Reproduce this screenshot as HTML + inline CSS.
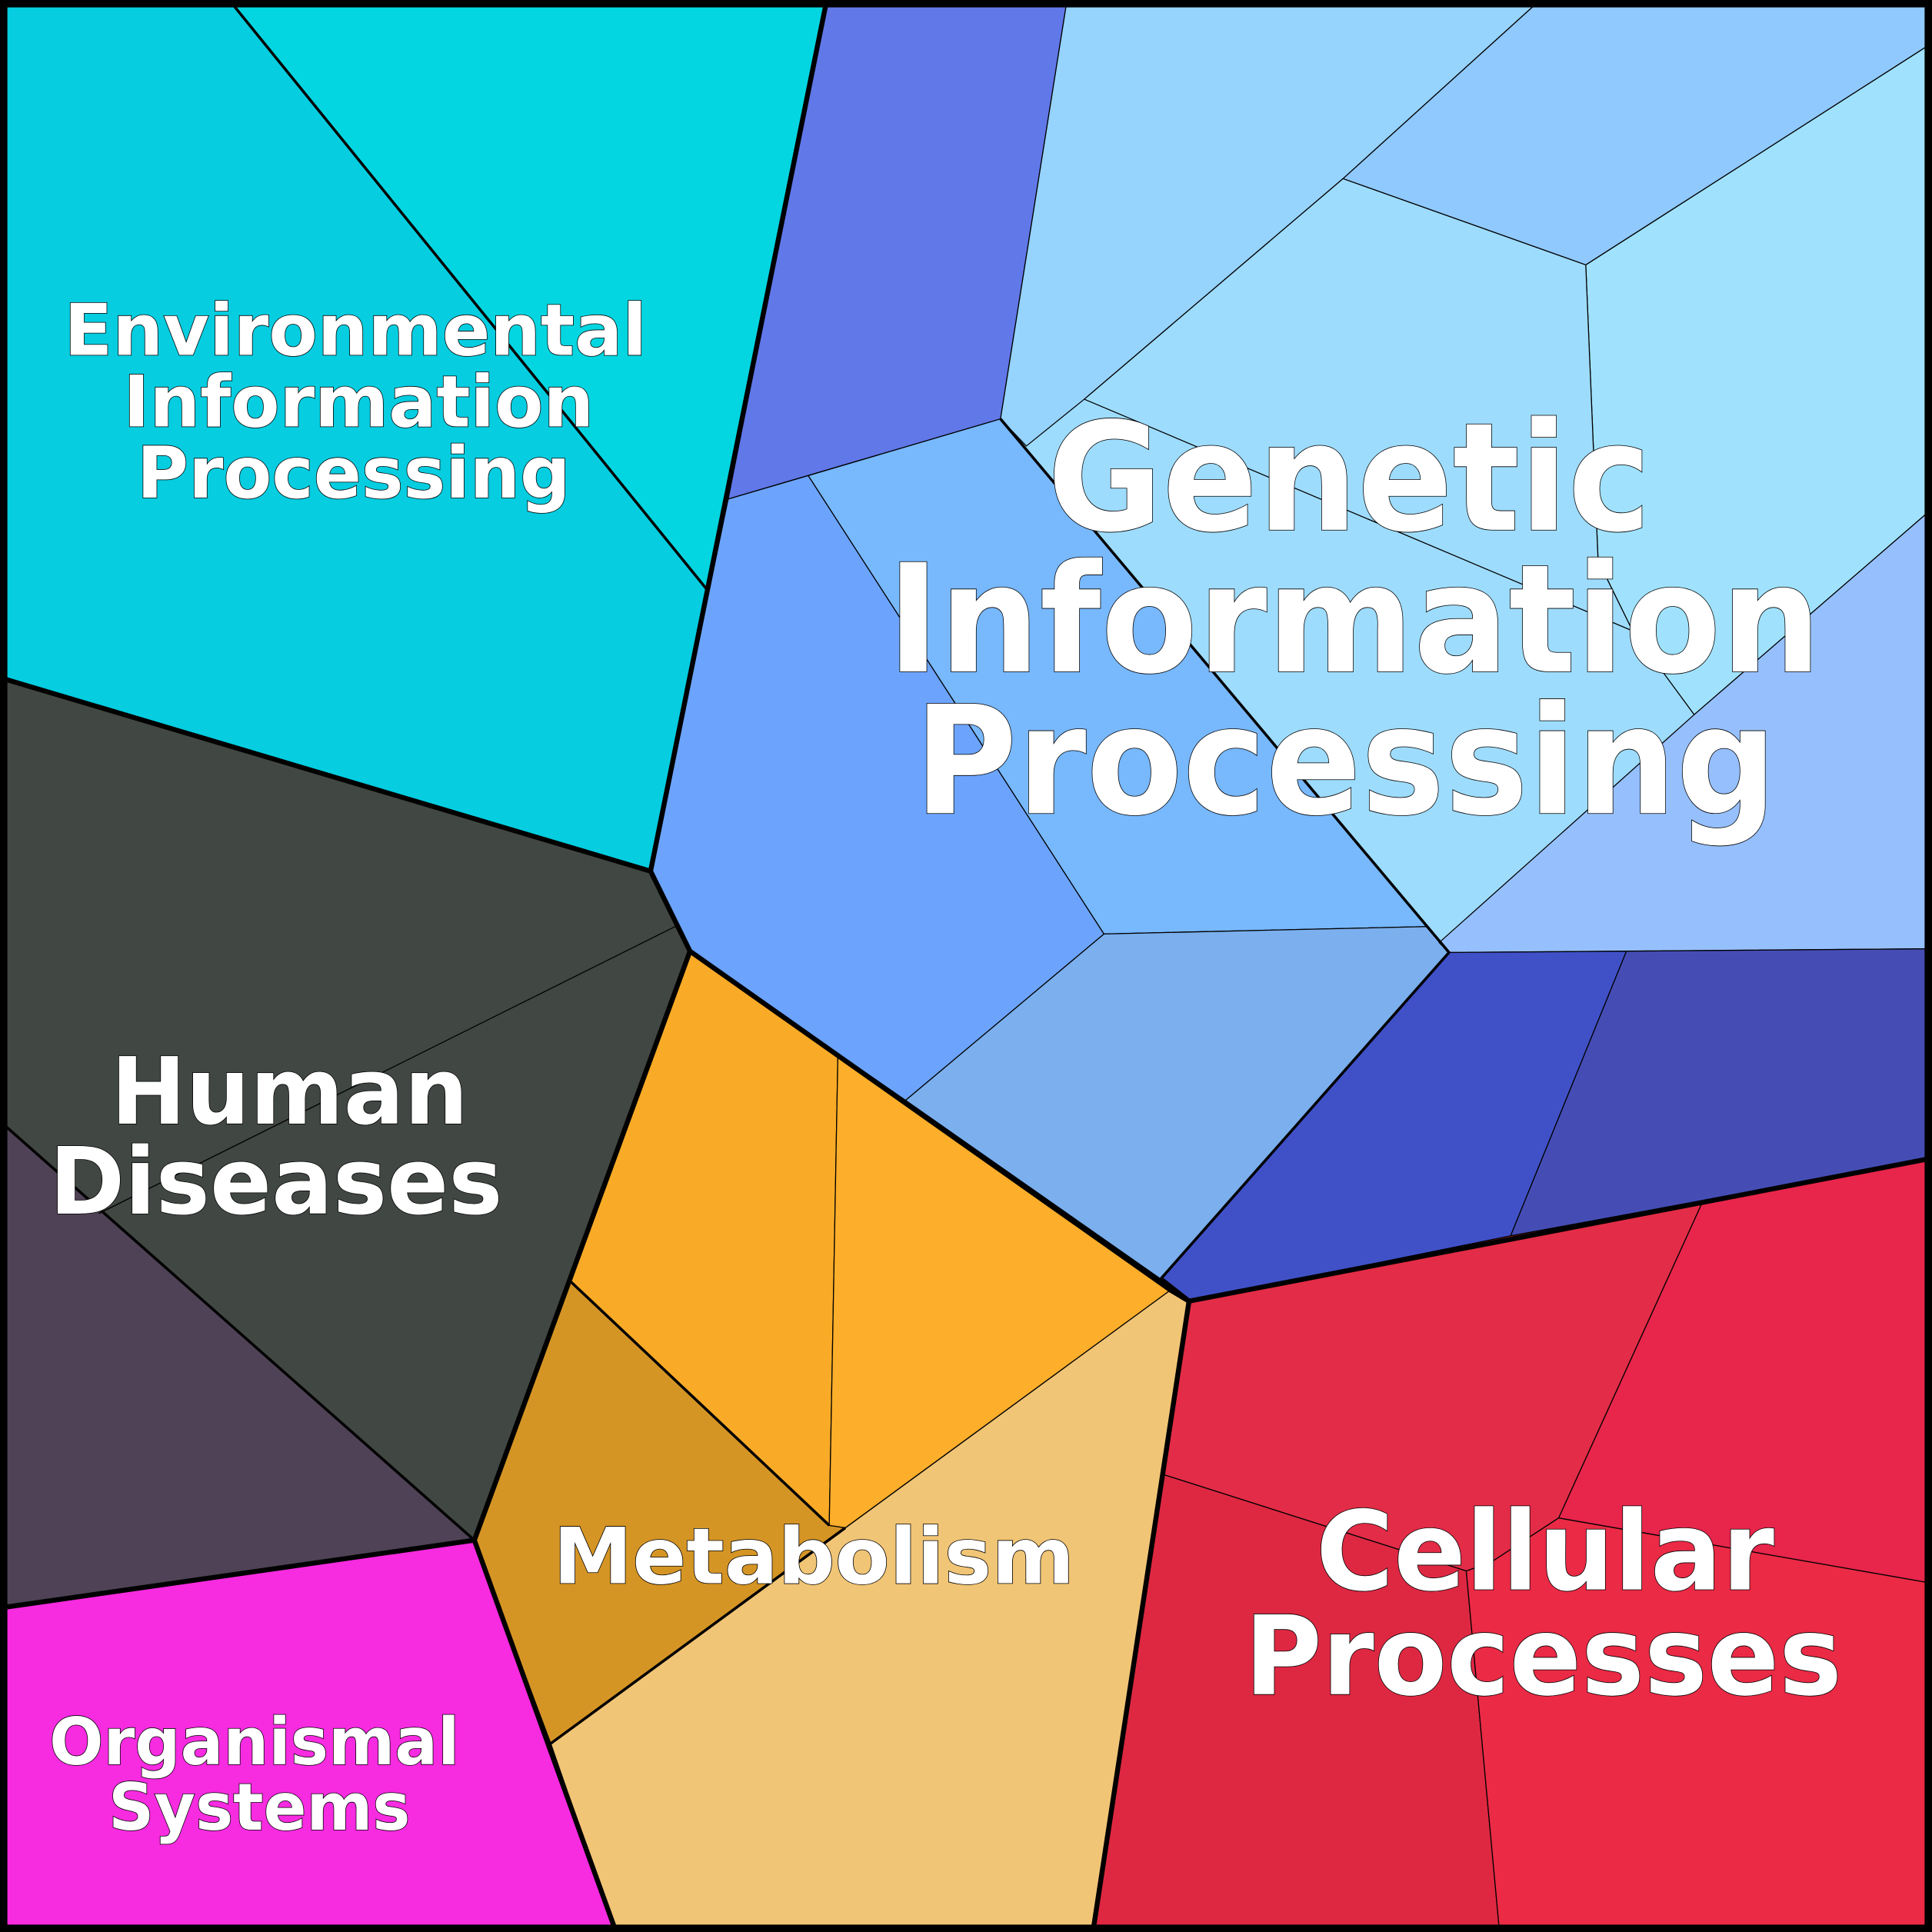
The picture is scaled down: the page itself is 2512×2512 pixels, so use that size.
<!DOCTYPE html>
<html><head><meta charset="utf-8"><style>
html,body{margin:0;padding:0;background:#000}
svg{display:block}
text{font-family:"DejaVu Sans","Liberation Sans",sans-serif;font-weight:bold;fill:#fff;stroke:#000;stroke-width:1;paint-order:stroke}
</style></head><body>
<svg width="2512" height="2512" viewBox="0 0 1568 1568" xmlns="http://www.w3.org/2000/svg">
<polygon fill="#9EDCFD" points="866,0 1568,0 1568,770 1176,773 812,340"/>
<g stroke="#000" stroke-width="0.8" stroke-linejoin="round">
<polygon fill="#06CDE0" points="0,0 186,0 575,480 528,707 0,550"/>
<polygon fill="#03D6E0" points="186,0 671,0 591,405 575,480"/>
<polygon fill="#414742" points="0,550 528,707 560,772 385,1250 0,910"/>
<polygon fill="#4F4256" points="0,910 385,1250 0,1305"/>
<polygon fill="#F72BE0" points="0,1305 385,1250 500,1568 0,1568"/>
<polygon fill="#F9AB27" points="560,772 680,857 673,1238 463,1040"/>
<polygon fill="#FDAE2A" points="680,857 950,1047 686,1240 673,1238"/>
<polygon fill="#D59525" points="463,1040 673,1238 686,1240 447,1415 385,1250"/>
<polygon fill="#F1C576" points="950,1047 965,1056 887,1568 500,1568 447,1415"/>
<polygon fill="#6178E8" points="671,0 866,0 812,340 591,405"/>
<polygon fill="#6CA4FD" points="591,405 656,386 896,758 735,893 560,772 528,707"/>
<polygon fill="#78B8FD" points="656,386 812,340 1158,752 896,758"/>
<polygon fill="#7BAFED" points="896,758 1158,752 1176,773 942,1038 735,893"/>
<polygon fill="#96D3FD" points="866,0 1250,0 1090,145 880,324 833,362 812,340"/>
<polygon fill="#90C9FD" points="1250,0 1568,0 1568,35 1287,215 1090,145"/>
<polygon fill="#A0E2FD" points="1287,215 1568,35 1568,413 1375,580 1325,512 1297,455"/>
<polygon fill="#96C0FD" points="1568,413 1568,770 1176,773 1168,765 1375,580"/>
<polygon fill="#9EDCFD" points="1090,145 1287,215 1297,455 1325,512 880,324"/>
<polygon fill="#4051C8" points="942,1038 1176,773 1320,772 1226,1003 965,1056"/>
<polygon fill="#454DB5" points="1320,772 1568,770 1568,940 1226,1003"/>
<polygon fill="#E32C47" points="965,1056 1226,1003 1382,975 1265,1232 1210,1268 1190,1275 945,1197"/>
<polygon fill="#E8254B" points="1382,975 1568,940 1568,1285 1265,1232"/>
<polygon fill="#DE2842" points="945,1197 1190,1275 1217,1568 887,1568"/>
<polygon fill="#EB2A45" points="1190,1275 1210,1268 1265,1232 1568,1285 1568,1568 1217,1568"/>
</g>
<g fill="none" stroke="#000">
<line x1="548" y1="752" x2="80" y2="985" stroke-width="0.8"/>
<g stroke-width="2.2">
<line x1="186" y1="0" x2="575" y2="480"/>
<line x1="0" y1="910" x2="385" y2="1250"/>
<polyline points="463,1040 673,1238"/>
<line x1="686" y1="1240" x2="447" y2="1415"/>
<polyline points="812,340 1176,773 942,1038"/>
</g>
<g stroke-width="4" stroke-linejoin="round">
<polyline points="671,0 528,707 560,772 950,1047 965,1056 1568,940"/>
<polyline points="0,550 528,707"/>
<polyline points="560,772 385,1250 500,1568"/>
<polyline points="0,1305 385,1250"/>
<polyline points="950,1047 965,1056 887,1568"/>
<polyline points="942,1038 965,1056"/>
</g>
<rect x="3" y="3" width="1562" height="1562" stroke-width="6"/>
</g>
<text x="52" y="288" font-size="58" textLength="473" lengthAdjust="spacingAndGlyphs">Environmental</text>
<text x="100" y="346" font-size="58" textLength="382" lengthAdjust="spacingAndGlyphs">Information</text>
<text x="111" y="404" font-size="58" textLength="352" lengthAdjust="spacingAndGlyphs">Processing</text>
<text x="850" y="430" font-size="122" textLength="490" lengthAdjust="spacingAndGlyphs">Genetic</text>
<text x="720" y="545" font-size="122" textLength="758" lengthAdjust="spacingAndGlyphs">Information</text>
<text x="742" y="660" font-size="122" textLength="700" lengthAdjust="spacingAndGlyphs">Processing</text>
<text x="90" y="912" font-size="75" textLength="290" lengthAdjust="spacingAndGlyphs">Human</text>
<text x="40" y="985" font-size="75" textLength="368" lengthAdjust="spacingAndGlyphs">Diseases</text>
<text x="449" y="1285" font-size="63" textLength="423" lengthAdjust="spacingAndGlyphs">Metabolism</text>
<text x="1068" y="1290" font-size="89" textLength="372" lengthAdjust="spacingAndGlyphs">Cellular</text>
<text x="1010" y="1375" font-size="89" textLength="485" lengthAdjust="spacingAndGlyphs">Processes</text>
<text x="40" y="1432" font-size="53" textLength="333" lengthAdjust="spacingAndGlyphs">Organismal</text>
<text x="88" y="1485" font-size="53" textLength="245" lengthAdjust="spacingAndGlyphs">Systems</text>
</svg>
</body></html>
